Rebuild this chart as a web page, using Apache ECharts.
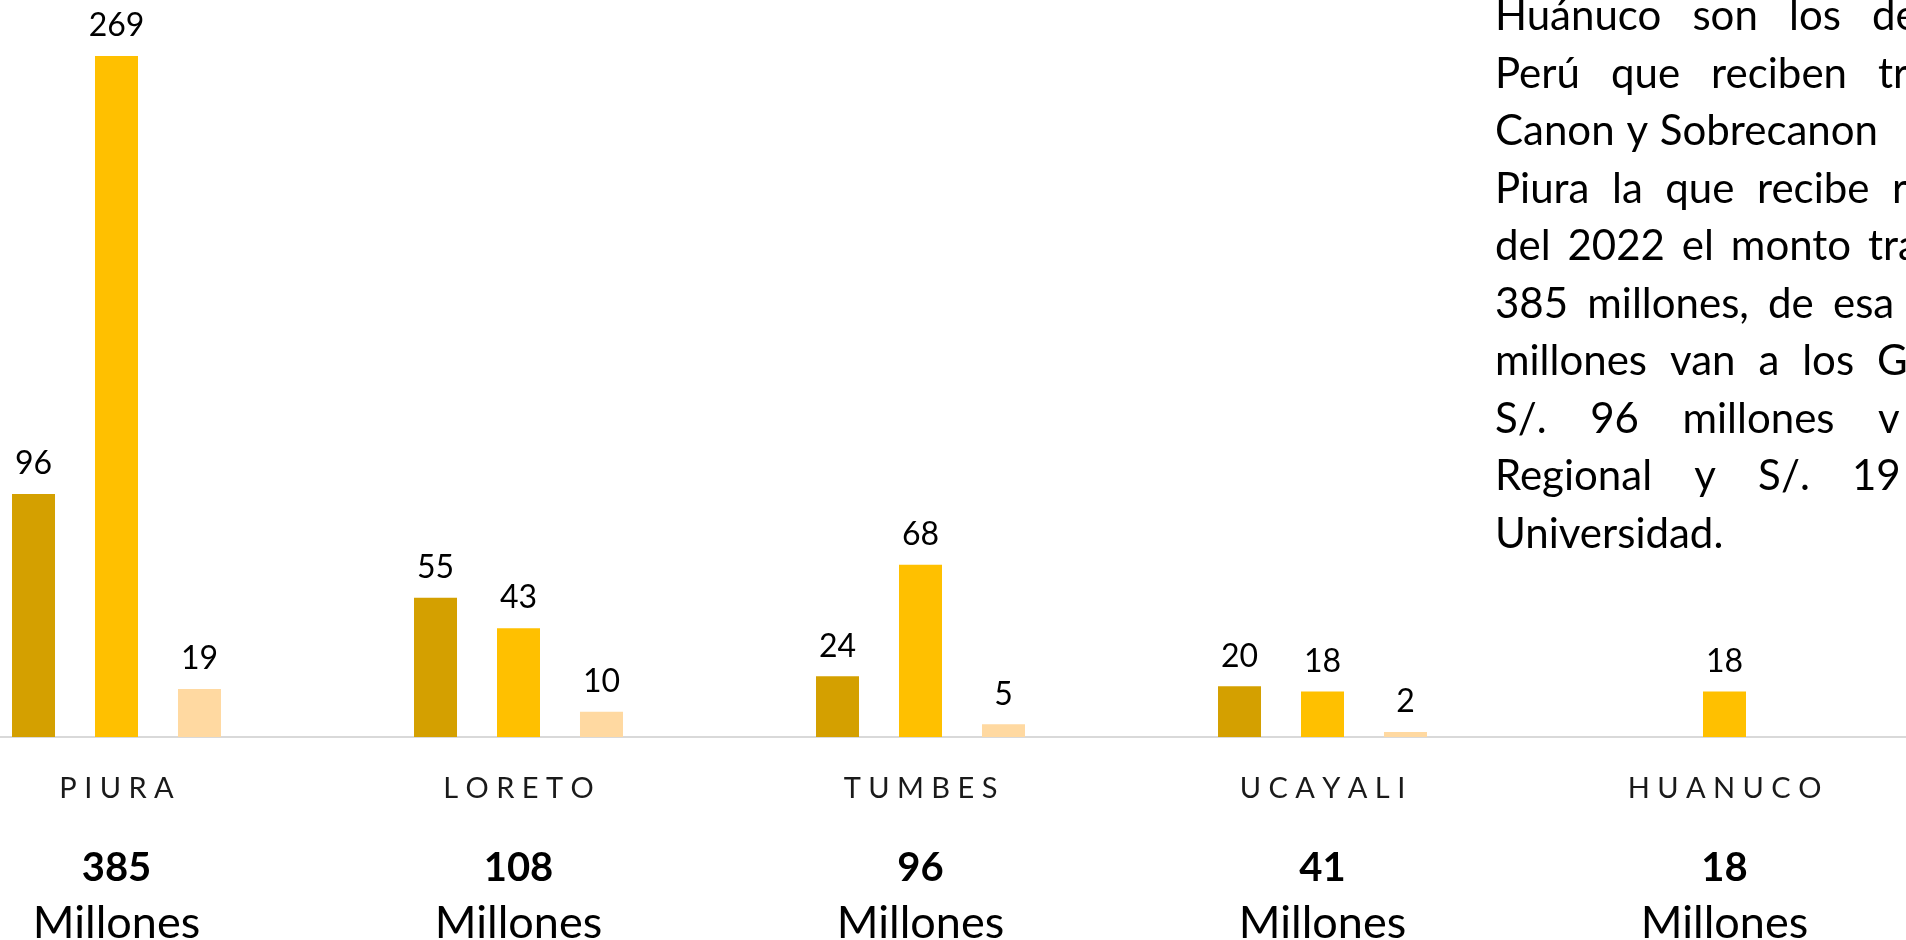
<!DOCTYPE html>
<html>
<head>
<meta charset="utf-8">
<script src="https://cdn.jsdelivr.net/npm/echarts@6/dist/echarts.min.js"></script>
<style>
  html, body { margin: 0; padding: 0; background: #fff; }
  #chart { width: 1906px; height: 940px; }
</style>
</head>
<body>
<div id="chart"></div>
<script>
// datos (millones de soles)
const categorias = ['PIURA', 'LORETO', 'TUMBES', 'UCAYALI', 'HUANUCO'];
const gobiernoRegional = [96, 55, 24, 20, null];
const gobiernosLocales = [269, 43, 68, 18, 18];
const universidades = [19, 10, 5, 2, null];
const totales = [385, 108, 96, 41, 18];
const unidad = 'Millones';

// texto del recuadro (recortado por el borde derecho)
const parrafo = [
  ['Huánuco', 'son', 'los', 'de'],
  ['Perú', 'que', 'reciben', 'tr'],
  ['Canon', 'y', 'Sobrecanon'],
  ['Piura', 'la', 'que', 'recibe', 'r'],
  ['del', '2022', 'el', 'monto', 'tra'],
  ['385', 'millones,', 'de', 'esa'],
  ['millones', 'van', 'a', 'los', 'G'],
  ['S/.', '96', 'millones', 'v'],
  ['Regional', 'y', 'S/.', '19'],
  ['Universidad.']
];
// x donde empieza la ultima palabra de cada linea justificada (null = una sola palabra)
// un valor negativo indica donde termina la ultima palabra
const finLinea = [1872, 1878, -1878, 1892, 1868, 1833, 1877, 1878, 1852, null];

const FUENTE = 'Lato';
const chart = echarts.init(document.getElementById('chart'));

const ctx = document.createElement('canvas').getContext('2d');
function ancho(t, size) {
  ctx.font = size + 'px ' + FUENTE;
  return ctx.measureText(t).width;
}

function textoParrafo() {
  const size = 42, x0 = 1495, base0 = 33, paso = 57.5;
  const out = [];
  parrafo.forEach((palabras, i) => {
    const yMid = base0 + paso * i - 0.387 * size;
    let xs = [x0];
    if (finLinea[i] != null && palabras.length > 1) {
      const w = palabras.map(p => ancho(p, size));
      let suma = 0;
      for (let k = 0; k < w.length - 1; k++) suma += w[k];
      let ultima = finLinea[i];
      if (ultima < 0) ultima = -ultima - w[w.length - 1];
      const gap = (ultima - x0 - suma) / (palabras.length - 1);
      xs = [];
      let x = x0;
      palabras.forEach((p, k) => { xs.push(x); x += w[k] + gap; });
    }
    palabras.forEach((p, k) => {
      out.push({
        type: 'text',
        x: xs[k],
        y: yMid,
        silent: true,
        style: {
          text: p,
          font: size + 'px ' + FUENTE,
          fill: '#000',
          align: 'left', verticalAlign: 'middle',
          textAlign: 'left', textVerticalAlign: 'middle'
        }
      });
    });
  });
  return out;
}

const etiqueta = {
  show: true,
  position: 'top',
  distance: 14,
  color: '#000',
  fontFamily: FUENTE,
  fontSize: 32
};

const option = {
  animation: false,
  backgroundColor: '#fff',
  grid: {
    left: -84.5, right: -19.5, top: 56, bottom: 203,
    containLabel: false,
    outerBoundsMode: 'none'
  },
  xAxis: {
    type: 'category',
    data: categorias,
    axisLine: { show: true, lineStyle: { color: '#d9d9d9', width: 2 } },
    axisTick: { show: false },
    axisLabel: {
      interval: 0,
      margin: 3,
      formatter: (v, i) => `{cat|${v.split('').join(' ')}}\n{tot|${totales[i]}}\n{mil|${unidad}}`,
      rich: {
        cat: { fontFamily: FUENTE, fontSize: 29, color: '#1a1a1a', lineHeight: 98 },
        tot: { fontFamily: FUENTE, fontSize: 40, fontWeight: 'bold', color: '#000', lineHeight: 60 },
        mil: { fontFamily: FUENTE, fontSize: 45, color: '#000', lineHeight: 50 }
      }
    }
  },
  yAxis: {
    type: 'value',
    min: 0,
    max: 269,
    show: false,
    splitLine: { show: false }
  },
  series: [
    {
      name: 'Gobierno Regional',
      type: 'bar',
      data: gobiernoRegional,
      barWidth: 43,
      barGap: '93%',
      itemStyle: { color: '#D4A000' },
      label: etiqueta
    },
    {
      name: 'Gobiernos Locales',
      type: 'bar',
      data: gobiernosLocales,
      barWidth: 43,
      barGap: '93%',
      itemStyle: { color: '#FFC000' },
      label: etiqueta
    },
    {
      name: 'Universidades',
      type: 'bar',
      data: universidades,
      barWidth: 43,
      barGap: '93%',
      itemStyle: { color: '#FFD9A1' },
      label: etiqueta
    }
  ],
  graphic: textoParrafo()
};

chart.setOption(option);
window.addEventListener('resize', () => chart.resize());
</script>
</body>
</html>
